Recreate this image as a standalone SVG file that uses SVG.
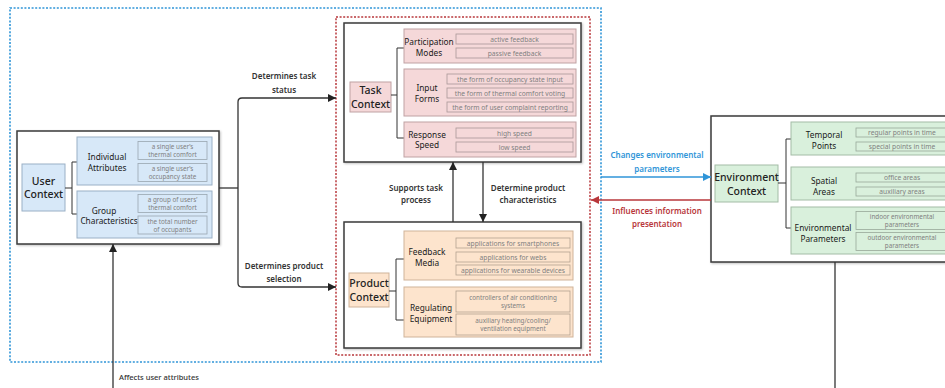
<svg xmlns="http://www.w3.org/2000/svg" width="945" height="388" viewBox="0 0 945 388">
<defs>
<marker id="ak" markerUnits="userSpaceOnUse" markerWidth="9" markerHeight="8" refX="8" refY="4" orient="auto"><path d="M0,0 L8,4 L0,8 z" fill="#222"/></marker>
<marker id="ab" markerUnits="userSpaceOnUse" markerWidth="9" markerHeight="8" refX="8" refY="4" orient="auto"><path d="M0,0 L8,4 L0,8 z" fill="#2f95d8"/></marker>
<marker id="ar" markerUnits="userSpaceOnUse" markerWidth="9" markerHeight="8" refX="8" refY="4" orient="auto"><path d="M0,0 L8,4 L0,8 z" fill="#b8373b"/></marker>
<filter id="sh" x="-5%" y="-5%" width="110%" height="110%"><feDropShadow dx="1" dy="1" stdDeviation="0.8" flood-color="#000" flood-opacity="0.25"/></filter>
<style>
text{font-family:"Noto Sans","Open Sans","Liberation Sans",sans-serif;text-anchor:middle;dominant-baseline:central}
.outer{fill:#fff;stroke:#3a3a3a;stroke-width:1.5}
.main{font-size:10.5px;font-weight:500;fill:#222}
.cat{font-size:8.3px;fill:#1a1a1a}
.sub{font-size:6.7px;fill:#808080}
.s2{font-size:6.3px;fill:#808080}
.lbl{font-size:8px;font-weight:600;fill:#333}
.ub{fill:#d7e8f8;stroke:#9ab0c6;stroke-width:1}
.us{fill:#d7e8f8;stroke:#9aa6b0;stroke-width:0.8}
.tb{fill:#f5d8d9;stroke:#bfa2a3;stroke-width:1}
.ts{fill:#f5d8d9;stroke:#a99798;stroke-width:0.8}
.pb{fill:#fde4cd;stroke:#cfb399;stroke-width:1}
.ps{fill:#fde4cd;stroke:#b3a291;stroke-width:0.8}
.eb{fill:#d9f0dc;stroke:#a3bca6;stroke-width:1}
.es{fill:#d9f0dc;stroke:#98a89a;stroke-width:0.8}
.br{fill:none;stroke:#333;stroke-width:1}
.cn{fill:none;stroke:#333;stroke-width:1.3}
</style>
</defs>

<g id="frames">
<rect x="10" y="8" width="591" height="354" fill="none" stroke="#2f95d8" stroke-width="1.6" stroke-dasharray="2,1.6"/>
<rect x="336" y="17" width="254" height="338" fill="none" stroke="#b8373b" stroke-width="1.5" stroke-dasharray="2,1.6"/>
</g>

<g id="user-context">
<rect class="outer" x="17" y="131" width="202" height="113" filter="url(#sh)"/>
<rect class="ub" x="22" y="164" width="43" height="47"/>
<text class="main" x="43.5" y="181">User</text>
<text class="main" x="43.5" y="194">Context</text>
<path class="br" d="M65,188 H72 M72,162 V214 M72,162 H77 M72,214 H77"/>
<rect class="ub" x="77" y="137" width="135" height="48"/>
<text class="cat" x="107" y="156">Individual</text>
<text class="cat" x="107" y="167">Attributes</text>
<rect class="us" x="138" y="141.5" width="69" height="18"/>
<text class="s2" x="172.5" y="146.5">a single user’s</text>
<text class="s2" x="172.5" y="154.5">thermal comfort</text>
<rect class="us" x="138" y="163.5" width="69" height="18"/>
<text class="s2" x="172.5" y="168.5">a single user’s</text>
<text class="s2" x="172.5" y="176.5">occupancy state</text>
<rect class="ub" x="77" y="191" width="135" height="47"/>
<text class="cat" x="104" y="210">Group</text>
<text class="cat" x="109" y="220.5">Characteristics</text>
<rect class="us" x="138" y="194.5" width="69" height="18"/>
<text class="s2" x="172.5" y="199.5">a group of users’</text>
<text class="s2" x="172.5" y="207.5">thermal comfort</text>
<rect class="us" x="138" y="216" width="69" height="18"/>
<text class="s2" x="172.5" y="221">the total number</text>
<text class="s2" x="172.5" y="229">of occupants</text>
</g>

<g id="task-context">
<rect class="outer" x="344" y="23" width="237" height="139" filter="url(#sh)"/>
<rect class="tb" x="350" y="82" width="41" height="30"/>
<text class="main" x="370.5" y="90">Task</text>
<text class="main" x="370.5" y="103.5">Context</text>
<path class="br" d="M391,95 H397 M397,48 V138 M397,48 H404 M397,138 H404"/>
<rect class="tb" x="404" y="29" width="172" height="34"/>
<text class="cat" x="429" y="41.5">Participation</text>
<text class="cat" x="429" y="52.5">Modes</text>
<rect class="ts" x="456" y="34" width="117" height="10"/>
<text class="sub" x="514.5" y="39">active feedback</text>
<rect class="ts" x="456" y="48" width="117" height="10"/>
<text class="sub" x="514.5" y="53">passive feedback</text>
<rect class="tb" x="404" y="69" width="172" height="47"/>
<text class="cat" x="427" y="87.5">Input</text>
<text class="cat" x="427" y="98">Forms</text>
<rect class="ts" x="447" y="74" width="126" height="10"/>
<text class="sub" x="510" y="79">the form of occupancy state input</text>
<rect class="ts" x="447" y="88" width="126" height="10"/>
<text class="sub" x="510" y="93">the form of thermal comfort voting</text>
<rect class="ts" x="447" y="102" width="126" height="10"/>
<text class="sub" x="510" y="107">the form of user complaint reporting</text>
<rect class="tb" x="404" y="122" width="172" height="35"/>
<text class="cat" x="427" y="134">Response</text>
<text class="cat" x="427" y="144.5">Speed</text>
<rect class="ts" x="456" y="128" width="117" height="10"/>
<text class="sub" x="514.5" y="133">high speed</text>
<rect class="ts" x="456" y="142" width="117" height="10"/>
<text class="sub" x="514.5" y="147">low speed</text>
</g>

<g id="product-context">
<rect class="outer" x="344" y="222" width="237" height="126" filter="url(#sh)"/>
<rect class="pb" x="349" y="273" width="40" height="34"/>
<text class="main" x="369" y="283">Product</text>
<text class="main" x="369" y="297">Context</text>
<path class="br" d="M389,291 H396 M396,259 V320 M396,259 H404 M396,320 H404"/>
<rect class="pb" x="404" y="231" width="169" height="49"/>
<text class="cat" x="427" y="251">Feedback</text>
<text class="cat" x="427" y="262">Media</text>
<rect class="ps" x="456" y="238" width="114" height="10"/>
<text class="sub" x="513" y="243">applications for smartphones</text>
<rect class="ps" x="456" y="252" width="114" height="10"/>
<text class="sub" x="513" y="257">applications for webs</text>
<rect class="ps" x="456" y="265" width="114" height="10"/>
<text class="sub" x="513" y="270">applications for wearable devices</text>
<rect class="pb" x="404" y="287" width="169" height="50"/>
<text class="cat" x="431" y="307.5">Regulating</text>
<text class="cat" x="431" y="318.5">Equipment</text>
<rect class="ps" x="456" y="291" width="114" height="21"/>
<text class="s2" x="513" y="297.5">controllers of air conditioning</text>
<text class="s2" x="513" y="305.5">systems</text>
<rect class="ps" x="456" y="314" width="114" height="21"/>
<text class="s2" x="513" y="320.5">auxiliary heating/cooling/</text>
<text class="s2" x="513" y="328.5">ventilation equipment</text>
</g>

<g id="environment-context">
<rect class="outer" x="711" y="116" width="250" height="146" filter="url(#sh)"/>
<rect class="eb" x="715" y="165" width="63" height="37"/>
<text class="main" x="746.5" y="177">Environment</text>
<text class="main" x="746.5" y="191">Context</text>
<path class="br" d="M778,183 H786 M786,139 V228 M786,139 H791 M786,228 H791"/>
<rect class="eb" x="791" y="122" width="165" height="33"/>
<text class="cat" x="824" y="134">Temporal</text>
<text class="cat" x="824" y="145">Points</text>
<rect class="es" x="856" y="128" width="94" height="9"/>
<text class="sub" x="902" y="132.5">regular points in time</text>
<rect class="es" x="856" y="142" width="94" height="9"/>
<text class="sub" x="902" y="146.5">special points in time</text>
<rect class="eb" x="791" y="167" width="165" height="33"/>
<text class="cat" x="824" y="180">Spatial</text>
<text class="cat" x="824" y="191">Areas</text>
<rect class="es" x="856" y="173" width="94" height="9"/>
<text class="sub" x="902" y="177.5">office areas</text>
<rect class="es" x="856" y="187" width="94" height="9"/>
<text class="sub" x="902" y="191.5">auxiliary areas</text>
<rect class="eb" x="791" y="207" width="165" height="47"/>
<text class="cat" x="823" y="227">Environmental</text>
<text class="cat" x="823" y="238">Parameters</text>
<rect class="es" x="856" y="211.5" width="94" height="18"/>
<text class="s2" x="902" y="216.5">indoor environmental</text>
<text class="s2" x="902" y="224.5">parameters</text>
<rect class="es" x="856" y="232.5" width="94" height="18"/>
<text class="s2" x="902" y="237.5">outdoor environmental</text>
<text class="s2" x="902" y="245.5">parameters</text>
</g>

<g id="connectors">
<path class="cn" d="M219,188 H238"/>
<path class="cn" d="M238,188 V102 Q238,98 242,98 H336" marker-end="url(#ak)"/>
<path class="cn" d="M238,188 V283 Q238,287 242,287 H336" marker-end="url(#ak)"/>
<path class="cn" d="M453,222 V162" marker-end="url(#ak)"/>
<path class="cn" d="M483,162 V222" marker-end="url(#ak)"/>
<path class="cn" d="M113,388 V244" marker-end="url(#ak)"/>
<path class="cn" d="M835,262 V388"/>
<path fill="none" stroke="#2f95d8" stroke-width="1.5" d="M601,177 H711" marker-end="url(#ab)"/>
<path fill="none" stroke="#b8373b" stroke-width="1.5" d="M711,200 H591" marker-end="url(#ar)"/>
<text class="lbl" x="284" y="75">Determines task</text>
<text class="lbl" x="284" y="89">status</text>
<text class="lbl" x="284" y="265">Determines product</text>
<text class="lbl" x="284" y="278">selection</text>
<text class="lbl" x="416" y="187">Supports task</text>
<text class="lbl" x="416" y="199">process</text>
<text class="lbl" x="528" y="187">Determine product</text>
<text class="lbl" x="528" y="199">characteristics</text>
<text class="lbl" x="657" y="154" style="fill:#2f95d8">Changes environmental</text>
<text class="lbl" x="657" y="168" style="fill:#2f95d8">parameters</text>
<text class="lbl" x="657" y="210" style="fill:#b8373b">Influences information</text>
<text class="lbl" x="657" y="223" style="fill:#b8373b">presentation</text>
<text class="lbl" x="119" y="377" style="text-anchor:start;font-weight:500;font-size:7.5px">Affects user attributes</text>
</g>
</svg>
